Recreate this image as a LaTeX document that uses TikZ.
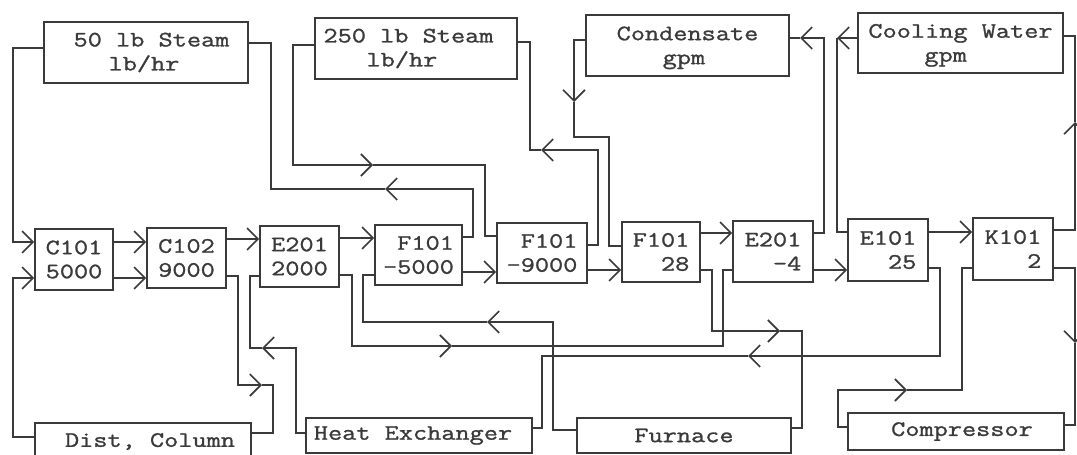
\documentclass[tikz,border=0pt]{standalone}
\usepackage{fontspec}
\setmonofont[FakeStretch=1.25,FakeBold=1.2]{Latin Modern Mono}
\usetikzlibrary{arrows.meta}
\definecolor{ink}{HTML}{3A3A3A}
\newcommand\ind[1]{\hspace*{#1pt}}
\newcommand\upfix{\raisebox{5pt}{\vphantom{l}}}
\begin{document}
\begin{tikzpicture}[x=1pt,y=-1pt,
  box/.style={draw=ink, line width=1.6pt, inner sep=0pt, text=ink,
    font=\ttfamily\fontsize{22}{24}\selectfont},
  sz/.style 2 args={minimum width=#1pt, minimum height=#2pt},
  flow/.style={draw=ink, line width=1.6pt},
  arr/.style={-{Straight Barb[length=11pt,width=22pt]}}]
\useasboundingbox[fill=white] (0,0) rectangle (1077,455);

% top boxes
\node[box, sz={204}{61}, align=left] (s50)  at (146,52.5)  {\ind{11}50 lb Steam\\\ind{46}lb/hr};
\node[box, sz={202}{61}, align=left] (s250) at (416,48.5)  {250 lb Steam\ind{15}\\\ind{43}lb/hr};
\node[box, sz={203}{61}, align=left] (cond) at (687.5,45.5){\upfix Condensate\\\ind{46}gpm};
\node[box, sz={205}{60}, align=left] (cw)   at (960.5,43)  {\upfix Cooling Water\\\ind{56}gpm};

% middle row
\node[box, sz={78}{61}, align=right] (c101)  at (74,259.5)  {C101\\5000};
\node[box, sz={79}{60}, align=right] (c102)  at (186.5,258) {C102\\9000};
\node[box, sz={79}{61}, align=right] (e201a) at (299.5,256.5){E201\\2000};
\node[box, sz={87}{60}, align=right] (f5)    at (418.5,255) {F101\\-5000};
\node[box, sz={90}{60}, align=right] (f9)    at (542,253)   {F101\\-9000};
\node[box, sz={78}{60}, align=right] (f28)   at (661,252)   {F101\\28};
\node[box, sz={80}{61}, align=right] (e201b) at (773,251.5) {E201\\-4};
\node[box, sz={80}{62}, align=right] (e101)  at (888,250)   {E101\\25};
\node[box, sz={80}{62}, align=right] (k101)  at (1013,249)  {K101\\2};

% bottom boxes
\node[box, sz={216}{37}] (dist) at (143,441.5) {\ind{14}Dist, Column};
\node[box, sz={226}{35}] (heat) at (419,435.5) {Heat Exchanger\ind{12}};
\node[box, sz={214}{35}] (furn) at (684,435.5) {Furnace};
\node[box, sz={216}{37}] (comp) at (956,431.5) {\ind{12}Compressor};

% arrow points on connectors
\coordinate (m1) at (262,385);
\coordinate (m2) at (262,348);
\coordinate (m3) at (452,346);
\coordinate (m4) at (385,189);
\coordinate (m5) at (373,165);
\coordinate (m6) at (487,322);
\coordinate (m7) at (541,150);
\coordinate (m8) at (574,102);
\coordinate (m9) at (780,331);
\coordinate (m10) at (800,38);
\coordinate (m11) at (837,38);
\coordinate (m12) at (748,356);
\coordinate (m13) at (1075,122);
\coordinate (m14) at (1075,343);
\coordinate (m15) at (907,390);

% connectors
\draw[flow,arr] (s50.west |- 0,48) -- (13,48) -- (13,242) -- (c101.west |- 0,242);
\draw[flow,arr] (dist.west |- 0,437) -- (13,437) -- (13,278) -- (c101.west |- 0,278);
\draw[flow,arr] (c101.east |- 0,242) -- (c102.west |- 0,242);
\draw[flow,arr] (c101.east |- 0,278) -- (c102.west |- 0,278);
\draw[flow,arr] (c102.east |- 0,239) -- (e201a.west |- 0,239);
\draw[flow,arr] (c102.east |- 0,276) -- (238,276) -- (238,385) -- (m1);
\draw[flow] (m1) -- (273,385) -- (273,433) -- (dist.east |- 0,433);
\draw[flow,arr] (heat.west |- 0,433) -- (296,433) -- (296,348) -- (m2);
\draw[flow] (m2) -- (250,348) -- (250,276) -- (e201a.west |- 0,276);
\draw[flow,arr] (e201a.east |- 0,238) -- (f5.west |- 0,238);
\draw[flow,arr] (e201a.east |- 0,275) -- (352,275) -- (352,346) -- (m3);
\draw[flow] (m3) -- (723,346) -- (723,270) -- (e201b.west |- 0,270);
\draw[flow,arr] (f5.east |- 0,237) -- (473,237) -- (473,189) -- (m4);
\draw[flow] (m4) -- (271,189) -- (271,43) -- (s50.east |- 0,43);
\draw[flow,arr] (s250.west |- 0,45) -- (293,45) -- (293,165) -- (m5);
\draw[flow] (m5) -- (485,165) -- (485,236) -- (f9.west |- 0,236);
\draw[flow,arr] (f5.east |- 0,272) -- (f9.west |- 0,272);
\draw[flow,arr] (furn.west |- 0,430) -- (553,430) -- (553,322) -- (m6);
\draw[flow] (m6) -- (363,322) -- (363,275) -- (f5.west |- 0,275);
\draw[flow,arr] (f9.east |- 0,245) -- (598,245) -- (598,150) -- (m7);
\draw[flow] (m7) -- (530,150) -- (530,42) -- (s250.east |- 0,42);
\draw[flow,arr] (f9.east |- 0,270) -- (f28.west |- 0,270);
\draw[flow,arr] (cond.west |- 0,40) -- (574,40) -- (m8);
\draw[flow] (m8) -- (574,137) -- (609,137) -- (609,246) -- (f28.west |- 0,246);
\draw[flow,arr] (f28.east |- 0,233) -- (e201b.west |- 0,233);
\draw[flow,arr] (f28.east |- 0,270) -- (712,270) -- (712,331) -- (m9);
\draw[flow] (m9) -- (802,331) -- (802,428) -- (furn.east |- 0,428);
\draw[flow,arr] (e201b.east |- 0,233) -- (824,233) -- (824,38) -- (m10);
\draw[flow] (m10) -- (cond.east |- 0,38);
\draw[flow,arr] (cw.west |- 0,38) -- (m11);
\draw[flow] (m11) -- (837,232) -- (e101.west |- 0,232);
\draw[flow,arr] (e201b.east |- 0,270) -- (e101.west |- 0,270);
\draw[flow,arr] (e101.east |- 0,232) -- (k101.west |- 0,232);
\draw[flow,arr] (e101.east |- 0,268) -- (940,268) -- (940,356) -- (m12);
\draw[flow] (m12) -- (542,356) -- (542,428) -- (heat.east |- 0,428);
\draw[flow,arr] (k101.east |- 0,230) -- (1075,230) -- (m13);
\draw[flow] (m13) -- (1075,36) -- (cw.east |- 0,36);
\draw[flow,arr] (k101.east |- 0,268) -- (1075,268) -- (m14);
\draw[flow] (m14) -- (1075,425) -- (comp.east |- 0,425);
\draw[flow,arr] (comp.west |- 0,427) -- (838,427) -- (838,390) -- (m15);
\draw[flow] (m15) -- (962,390) -- (962,268) -- (k101.west |- 0,268);
\end{tikzpicture}
\end{document}
